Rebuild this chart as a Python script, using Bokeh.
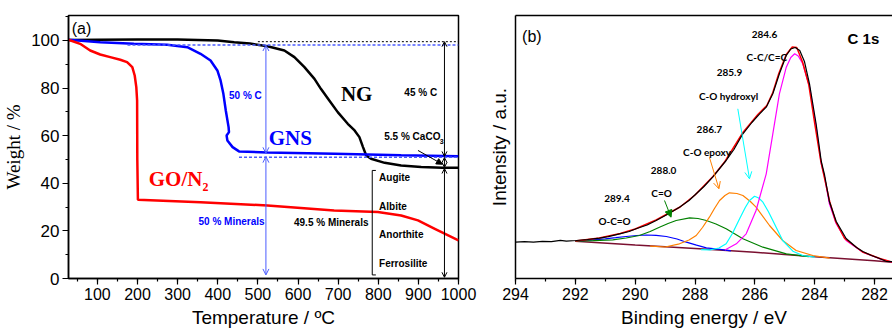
from bokeh.plotting import figure
from bokeh.layouts import row
from bokeh.models import (Range1d, SingleIntervalTicker, FixedTicker, Label, Arrow,
                          OpenHead, NormalHead, LinearAxis)
from bokeh.embed import file_html
from bokeh.resources import INLINE

# ---------------- (a) TGA data ----------------
ng_temp = [28, 100, 200, 300, 400, 441, 480, 524, 566, 591, 616, 641, 657, 678, 699, 724,
           741, 753, 762, 770, 782, 816, 857, 907, 960, 1000]
ng_weight = [100.2, 100.3, 100.4, 100.4, 100.0, 99.3, 98.7, 97.6, 95.8, 93.0, 88.8, 83.9, 79.7,
             74.8, 69.9, 65.0, 62.2, 59.4, 55.2, 51.7, 50.3, 48.6, 47.5, 46.8, 46.5, 46.5]

gns_temp = [28, 107, 191, 274, 324, 357, 382, 399, 407, 414, 420, 427, 428, 422, 424, 437,
            453, 524, 691, 857, 1000]
gns_weight = [100.3, 99.3, 98.6, 98.2, 97.2, 94.4, 91.6, 87.4, 83.2, 77.6, 70.6, 63.6, 61.5,
              60.1, 58.0, 55.2, 53.4, 52.9, 52.4, 51.8, 51.4]

go_temp = [28, 57, 82, 107, 132, 157, 174, 187, 193, 197, 199, 199.5, 201, 232, 357, 524, 690,
           799, 857, 899, 941, 1000]
go_weight = [100.3, 98.6, 95.8, 94.1, 93.0, 91.9, 90.9, 88.8, 85.3, 80.4, 74.8, 50.0, 33.1,
             32.9, 32.0, 30.7, 28.6, 27.9, 26.5, 24.4, 20.9, 16.0]

minerals = ["Augite", "Albite", "Anorthite", "Ferrosilite"]

# ---------------- (b) XPS C 1s data ----------------
raw_be = [294.0, 293.7, 293.4, 293.1, 292.8, 292.5, 292.3, 291.97, 291.6, 291.19, 290.9, 290.52,
          290.2, 289.97, 289.6, 289.3, 288.9, 288.52, 288.2, 287.96, 287.7, 287.41, 286.96, 286.7,
          286.4, 286.1, 285.84, 285.62, 285.4, 285.18, 284.95, 284.8, 284.65, 284.5, 284.34,
          284.17, 283.95, 283.78, 283.67, 283.51, 283.28, 282.95, 282.6, 282.39, 282.1, 281.83,
          281.6, 281.4]
raw_int = [36.3, 36.9, 36.4, 37.2, 36.8, 38.2, 37.3, 38.0, 39.0, 40.3, 41.8, 44.7,
           47.0, 49.7, 53.5, 58.0, 64.5, 71.3, 78.0, 84.7, 92.0, 101.3, 118.0, 129.0,
           144.7, 156.0, 164.7, 171.3, 184.7, 204.7, 223.0, 229.5, 231.0, 228.0, 216.7,
           194.0, 154.0, 117.0, 103.5, 77.0, 57.0, 40.0, 31.0, 27.0, 23.0, 20.0, 17.0, 16.8]

fit_be = [292.0, 291.2, 290.5, 290.0, 289.3, 288.5, 288.0, 287.4, 287.0, 286.4, 285.9, 285.6,
          285.4, 285.2, 284.95, 284.75, 284.6, 284.4, 284.2, 284.0, 283.8, 283.5, 283.3, 283.0,
          282.4, 281.8, 281.4]
fit_int = [37.5, 40.5, 45.0, 49.5, 58.5, 71.5, 83.5, 102.0, 117.0, 146.0, 164.0, 173.0, 186.0,
           205.0, 224.0, 231.5, 231.0, 216.0, 194.0, 155.0, 118.0, 77.0, 57.0, 40.0, 26.5, 19.8,
           16.3]

cc_be = [287.0, 286.62, 286.29, 285.96, 285.62, 285.4, 285.18, 284.95, 284.8, 284.67, 284.55,
         284.4, 284.17, 283.95, 283.78, 283.67, 283.51, 283.28, 282.95, 282.39, 281.83, 281.4]
cc_int = [28.5, 34.7, 44.7, 68.0, 104.7, 144.7, 184.7, 211.3, 221.0, 224.7, 222.5, 214.7, 191.3,
          151.3, 114.7, 101.3, 74.7, 54.7, 38.0, 26.3, 19.7, 16.3]

oh_be = [287.8, 287.5, 287.2, 286.96, 286.75, 286.51, 286.32, 286.18, 286.01, 285.87, 285.73,
         285.55, 285.4, 285.07, 284.73, 284.4, 284.0]
oh_int = [28.9, 28.6, 30.5, 34.7, 45.0, 59.7, 71.0, 78.0, 82.3, 80.5, 76.3, 67.0, 58.0, 38.0,
          27.3, 23.0, 21.3]

ep_be = [289.5, 289.0, 288.52, 288.2, 287.96, 287.75, 287.52, 287.35, 287.18, 287.0, 286.85,
         286.6, 286.4, 286.15, 285.96, 285.51, 285.07, 284.62, 284.06, 283.5]
ep_int = [32.3, 31.5, 34.7, 38.5, 43.0, 51.0, 61.3, 70.0, 78.0, 83.0, 85.7, 85.0, 83.0, 77.0,
          71.3, 53.0, 38.0, 28.0, 23.0, 20.3]

co_be = [292.0, 291.4, 290.75, 290.3, 289.86, 289.5, 289.19, 288.9, 288.63, 288.18, 287.9,
         287.62, 287.3, 286.96, 286.4, 285.73, 284.95, 284.2]
co_int = [37.4, 37.9, 38.7, 40.5, 43.0, 47.0, 51.3, 55.0, 58.0, 60.7, 60.0, 58.0, 54.5, 49.7,
          39.7, 31.3, 24.7, 21.8]

occ_be = [292.0, 291.5, 291.0, 290.65, 290.3, 289.95, 289.63, 289.3, 288.96, 288.6, 288.29,
          287.95, 287.62, 287.17, 286.8]
occ_int = [37.3, 38.3, 39.7, 40.8, 42.0, 43.0, 43.5, 43.2, 42.0, 39.5, 36.3, 33.3, 30.7, 29.2,
           27.7]

bg_be = [292.0, 290.0, 288.0, 286.0, 284.0, 282.0, 281.4]
bg_int = [37.3, 33.5, 30.0, 26.2, 21.8, 17.8, 16.3]

SANS = "Liberation Sans"
SERIF = "Liberation Serif"


def style_axes(p):
    for ax in p.axis:
        ax.axis_line_width = 1.5
        ax.axis_line_color = "black"
        ax.major_tick_line_width = 1.2
        ax.minor_tick_line_width = 1.2
        ax.major_tick_in = 0
        ax.major_tick_out = 6
        ax.minor_tick_in = 0
        ax.minor_tick_out = 3
        ax.major_label_text_font = SANS
        ax.major_label_text_color = "black"
        ax.axis_label_text_font_style = "normal"
        ax.axis_label_text_color = "black"
        ax.major_label_standoff = 3
        ax.axis_label_standoff = 4
    p.xgrid.grid_line_color = None
    p.ygrid.grid_line_color = None


# ============ Panel (a) ============
p1 = figure(width=480, height=333, x_range=Range1d(28, 1000), y_range=Range1d(0, 110.5),
            output_backend="svg", toolbar_location=None,
            min_border_left=68, min_border_right=22, min_border_top=15, min_border_bottom=55)
p1.xaxis.ticker = SingleIntervalTicker(interval=100, num_minor_ticks=2)
p1.yaxis.ticker = SingleIntervalTicker(interval=20, num_minor_ticks=2)
style_axes(p1)
p1.xaxis.major_label_text_font_size = "16px"
p1.yaxis.major_label_text_font_size = "17px"
p1.xaxis.axis_label = "Temperature / ºC"
p1.xaxis.axis_label_text_font = SANS
p1.xaxis.axis_label_text_font_size = "19px"
p1.yaxis.axis_label = "Weight / %"
p1.yaxis.axis_label_text_font = SERIF
p1.yaxis.axis_label_text_font_size = "19px"
p1.outline_line_color = "black"
p1.outline_line_width = 1.5
p1.outline_line_alpha = 1

p1.line(ng_temp, ng_weight, line_color="black", line_width=2.5)
p1.line(gns_temp, gns_weight, line_color="#0000ff", line_width=2.5)
p1.line(go_temp, go_weight, line_color="#ff0000", line_width=2.5)

# dotted reference lines
p1.add_layout(Arrow(end=None, x_start=500, y_start=99.5, x_end=1000, y_end=99.5,
                    line_color="black", line_width=1, line_dash="2 2"))
p1.add_layout(Arrow(end=None, x_start=175, y_start=98.1, x_end=1000, y_end=98.1,
                    line_color="#4b5cff", line_width=1.5, line_dash="3 2"))
p1.add_layout(Arrow(end=None, x_start=453, y_start=50.9, x_end=1000, y_end=50.9,
                    line_color="#4b5cff", line_width=1.5, line_dash="3 2"))

# blue double arrows at 520 C
for y0, y1 in [(98.1, 52.6), (51.2, 1.5)]:
    p1.add_layout(Arrow(start=OpenHead(size=6, line_color="#4b5cff", line_width=1),
                        end=OpenHead(size=6, line_color="#4b5cff", line_width=1),
                        x_start=520, y_start=y0, x_end=520, y_end=y1,
                        line_color="#4b5cff", line_width=1))
# black double arrows at 965 C
for y0, y1 in [(99.5, 51.3), (50.8, 46.7), (46.2, 0.5)]:
    p1.add_layout(Arrow(start=OpenHead(size=5, line_color="black", line_width=1),
                        end=OpenHead(size=5, line_color="black", line_width=1),
                        x_start=965, y_start=y0, x_end=965, y_end=y1,
                        line_color="black", line_width=1))
# CaCO3 pointer
p1.add_layout(Arrow(end=NormalHead(size=6, fill_color="black", line_color="black"),
                    x_start=899, y_start=53.8, x_end=960, y_end=48.0,
                    line_color="black", line_width=1))
# bracket for minerals
for xs, ys, xe, ye in [(785, 45.4, 785, 1.5), (785, 45.4, 794, 45.4), (785, 1.5, 794, 1.5)]:
    p1.add_layout(Arrow(end=None, x_start=xs, y_start=ys, x_end=xe, y_end=ye,
                        line_color="black", line_width=1))


def lab(p, x, y, text, size, color="black", font=SANS, bold=True, align="left"):
    p.add_layout(Label(x=x, y=y, text=text, text_font=font, text_font_size=size,
                       text_color=color, text_font_style="bold" if bold else "normal",
                       text_align=align, text_baseline="middle"))


lab(p1, 36, 105, "(a)", "16px", bold=False)
lab(p1, 428, 77, "50 % C", "10px", color="#0000ff")
lab(p1, 527, 59, "GNS", "21px", color="#0000ff", font=SERIF)
lab(p1, 707, 77.7, "NG", "21px", font=SERIF)
lab(p1, 865, 78, "45 % C", "10px")
lab(p1, 815, 59.7, "5.5 % CaCO", "10px")
lab(p1, 953, 57.6, "3", "7px")
lab(p1, 228, 41.9, "GO/N", "21px", color="#ff0000", font=SERIF)
lab(p1, 362, 38.3, "2", "12px", color="#ff0000", font=SERIF)
lab(p1, 352, 24, "50 % Minerals", "10px", color="#0000ff")
lab(p1, 590, 23.7, "49.5 % Minerals", "10px")
for name, yy in zip(minerals, [42.6, 30.3, 18.5, 6.4]):
    lab(p1, 802, yy, name, "10px")

# ============ Panel (b) ============
p2 = figure(width=412, height=333, x_range=Range1d(294, 281.4), y_range=Range1d(0, 263),
            output_backend="svg", toolbar_location=None,
            min_border_left=35, min_border_right=0, min_border_top=15, min_border_bottom=55)
p2.xaxis.ticker = SingleIntervalTicker(interval=2, num_minor_ticks=2)
p2.yaxis.ticker = FixedTicker(ticks=[])
style_axes(p2)
p2.xaxis.major_label_text_font_size = "16px"
p2.xaxis.axis_label = "Binding energy / eV"
p2.xaxis.axis_label_text_font = SANS
p2.xaxis.axis_label_text_font_size = "19px"
p2.yaxis.axis_label = "Intensity / a.u."
p2.yaxis.axis_label_text_font = SANS
p2.yaxis.axis_label_text_font_size = "19px"
p2.yaxis.axis_label_standoff = 6
p2.outline_line_color = None
top_axis = LinearAxis(ticker=FixedTicker(ticks=[]), axis_line_width=1.5,
                      major_label_text_font_size="0px")
p2.add_layout(top_axis, "above")

p2.line(bg_be, bg_int, line_color="#7a1030", line_width=1.5)
p2.line(occ_be, occ_int, line_color="#0000ff", line_width=1.2)
p2.line(co_be, co_int, line_color="#008000", line_width=1.2)
p2.line(ep_be, ep_int, line_color="#ff8000", line_width=1.2)
p2.line(oh_be, oh_int, line_color="#00ffff", line_width=1.2)
p2.line(cc_be, cc_int, line_color="#ff00ff", line_width=1.2)
p2.line(fit_be, fit_int, line_color="#ff0000", line_width=1.5)
p2.line(raw_be, raw_int, line_color="black", line_width=1.2)

LAT = "Lato"
lab(p2, 293.78, 242.5, "(b)", "16px", bold=False)
lab(p2, 282.9, 240.5, "C 1s", "15px")
for x, y, t in [(285.68, 244.5, "284.6"), (285.6, 222, "C-C/C=C"), (286.85, 206, "285.9"),
                (286.88, 183, "C-O hydroxyl"), (287.52, 149, "286.7"), (287.6, 126.5, "C-O epoxy"),
                (289.05, 108.5, "288.0"), (289.12, 86, "C=O"), (290.61, 80, "289.4"),
                (290.69, 57.5, "O-C=O")]:
    lab(p2, x, y, t, "10px", font=LAT, align="center")

p2.add_layout(Arrow(end=OpenHead(size=7, line_color="#00ffff", line_width=1),
                    x_start=286.57, y_start=169.7, x_end=286.18, y_end=99.7,
                    line_color="#00ffff", line_width=1))
p2.add_layout(Arrow(end=OpenHead(size=7, line_color="#ff8000", line_width=1),
                    x_start=287.52, y_start=121.3, x_end=287.2, y_end=89.7,
                    line_color="#ff8000", line_width=1))
p2.add_layout(Arrow(end=NormalHead(size=7, fill_color="#008000", line_color="#008000"),
                    x_start=289.02, y_start=78, x_end=288.8, y_end=61.3,
                    line_color="#008000", line_width=1))

layout = row(p1, p2)
open("out.html", "w").write(file_html(layout, INLINE))
